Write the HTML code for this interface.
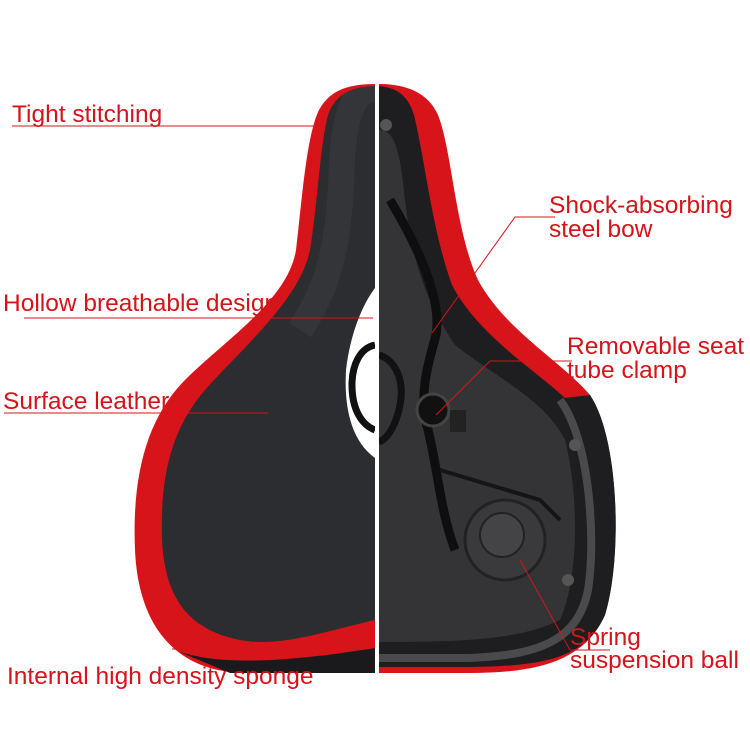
<!DOCTYPE html>
<html><head><meta charset="utf-8"><style>
html,body{margin:0;padding:0;background:#fff;}
svg{display:block;}
text{font-family:"Liberation Sans",sans-serif;font-size:24.5px;fill:#d4141a;}
</style></head><body>
<svg width="750" height="750" viewBox="0 0 750 750">
<defs><clipPath id="lc"><path d="M375,86 C350,87 335,95 328,115 C320,145 318,200 310,250 C300,300 240,350 205,390 C170,430 160,480 162,540 C165,600 190,630 240,640 C280,648 330,630 375,620 Z"/></clipPath></defs>
<!-- LEFT HALF -->
<path d="M375,84 C345,84 328,92 318,112 C306,140 302,200 296,250 C288,300 225,340 185,380 C145,420 132,480 135,550 C138,620 170,665 230,672 L375,673 Z" fill="#d8141b"/>
<path d="M375,86 C350,87 335,95 328,115 C320,145 318,200 310,250 C300,300 240,350 205,390 C170,430 160,480 162,540 C165,600 190,630 240,640 C280,648 330,630 375,620 Z" fill="#2c2d31"/>
<g clip-path="url(#lc)"><path d="M375,88 C355,90 345,110 342,160 C340,230 334,280 300,330" fill="none" stroke="#3a3b40" stroke-width="26" opacity="0.6"/></g>
<path d="M175,650 C220,668 300,660 375,648 L375,673 L230,673 Z" fill="#1a1a1c"/>
<!-- hollow opening -->
<path d="M375,288 C362,305 350,335 346,370 C344,405 350,440 375,458 Z" fill="#fff"/>
<path d="M375,345 C360,348 352,365 352,385 C352,410 362,425 375,430" fill="none" stroke="#111" stroke-width="7"/>
<!-- RIGHT HALF -->
<path d="M379,84 C405,84 428,92 438,115 C452,150 455,230 478,280 C505,330 560,360 590,395 C620,440 622,560 605,615 C585,660 540,673 470,673 L379,673 Z" fill="#d8141b"/>
<path d="M379,86 C398,88 408,96 414,115 C425,160 432,230 452,285 C478,335 535,370 565,398 L590,395 C620,440 622,560 605,615 C585,660 540,666 470,667 L379,667 Z" fill="#1e1e20"/>
<path d="M379,130 C395,130 400,150 405,200 C412,260 425,300 455,345 C500,380 545,400 565,440 C580,500 578,580 560,620 C520,640 460,642 379,642 Z" fill="#343437"/>
<path d="M560,400 C590,440 596,540 588,590 C578,640 540,655 470,658 L379,658" fill="none" stroke="#4a4a4d" stroke-width="8"/>
<circle cx="575" cy="445" r="6" fill="#555"/>
<circle cx="568" cy="580" r="6" fill="#555"/>
<circle cx="386" cy="125" r="6" fill="#555"/>
<circle cx="505" cy="540" r="40" fill="#3a3a3d" stroke="#222" stroke-width="3"/>
<circle cx="502" cy="535" r="22" fill="#444447" stroke="#222" stroke-width="2"/>
<path d="M390,200 C420,250 442,300 436,335 C428,365 418,395 428,430 C438,470 440,510 455,550" fill="none" stroke="#0e0e0e" stroke-width="9"/>
<circle cx="433" cy="410" r="16" fill="#111" stroke="#444" stroke-width="3"/>
<rect x="450" y="410" width="16" height="22" fill="#222"/>
<path d="M379,355 C395,360 405,380 400,405 C395,430 385,440 379,442" fill="none" stroke="#111" stroke-width="7"/>
<path d="M440,470 L540,500 L560,520" fill="none" stroke="#151515" stroke-width="4"/>
<rect x="375" y="80" width="4" height="620" fill="#fff"/>
<!-- labels -->
<g stroke="#d4141a" stroke-width="1" fill="none">
<line x1="12" y1="126" x2="325" y2="126"/>
<line x1="24" y1="318" x2="373" y2="318"/>
<line x1="4" y1="413" x2="268" y2="413"/>
<line x1="172" y1="649" x2="285" y2="649"/>
<polyline points="555,217 515,217 432,333"/>
<polyline points="572,361 490,361 436,415"/>
<polyline points="610,650 570,650 520,560"/>
</g>
<text x="12" y="122">Tight stitching</text>
<text x="3" y="311">Hollow breathable design</text>
<text x="3" y="409">Surface leather</text>
<text x="7" y="684">Internal high density sponge</text>
<text x="549" y="213">Shock-absorbing</text>
<text x="549" y="237">steel bow</text>
<text x="567" y="354">Removable seat</text>
<text x="567" y="378">tube clamp</text>
<text x="570" y="645">Spring</text>
<text x="570" y="668">suspension ball</text>
</svg>
</body></html>
